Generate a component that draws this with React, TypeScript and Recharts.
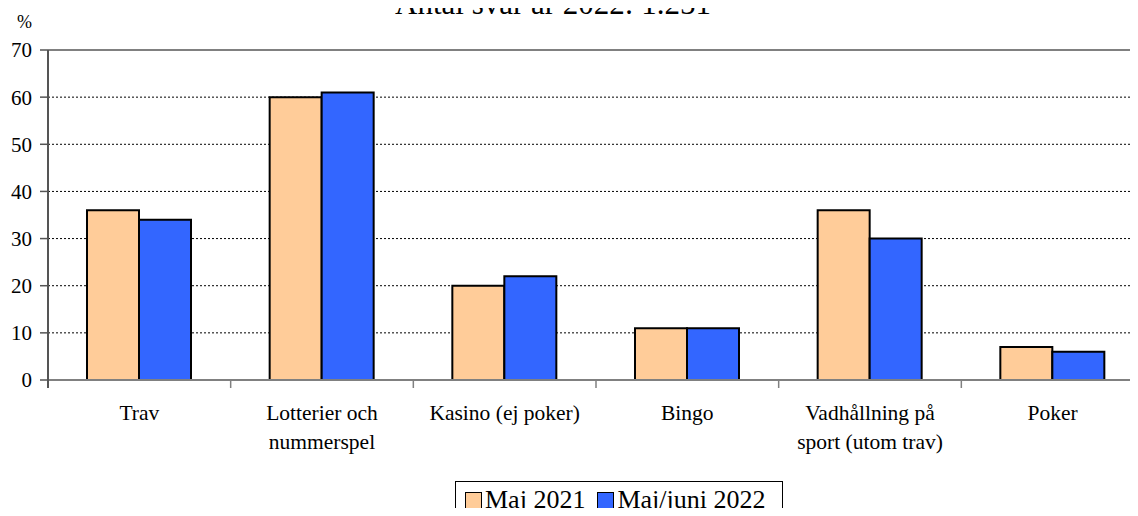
import React from 'react';
import { BarChart, Bar, XAxis, YAxis, CartesianGrid, ReferenceLine } from 'recharts';

const categories = ['Trav', 'Lotterier och\nnummerspel', 'Kasino (ej poker)', 'Bingo', 'Vadhållning på\nsport (utom trav)', 'Poker'];
const may2021 = [36, 60, 20, 11, 36, 7];
const mayJune2022 = [34, 61, 22, 11, 30, 6];
const yTicks = [0, 10, 20, 30, 40, 50, 60, 70];

const data = categories.map((name, i) => ({ name, y2021: may2021[i], y2022: mayJune2022[i] }));

const FONT = "Liberation Serif, DejaVu Serif, serif";
const CHART_W = 1150;
const PLOT_W = 1096;
const band = PLOT_W / categories.length;

const CategoryTick = (props: any) => {
  const { x, y, payload, index } = props;
  const lines = String(payload.value).split('\n');
  return (
    <g>
      {index === 0 && <line x1={x - band / 2} x2={x - band / 2} y1={y} y2={y + 8} stroke="#555" strokeWidth={2} />}
      <line x1={x + band / 2} x2={x + band / 2} y1={y} y2={y + 8} stroke="#808080" strokeWidth={1.5} />
      <text x={x} y={y + 40} textAnchor="middle" style={{ fontFamily: FONT }} fontSize={21.5} fill="#000">
        {lines.map((l, i) => (
          <tspan key={i} x={x} dy={i === 0 ? 0 : 29}>{l}</tspan>
        ))}
      </text>
    </g>
  );
};

export default function App() {
  return (
    <div style={{ position: 'relative', margin: -8, width: 1138, height: 516, overflow: 'hidden', background: '#fff', fontFamily: FONT }}>
      <div style={{ position: 'absolute', left: 0, width: 1106, top: -11, textAlign: 'center', fontSize: 31, lineHeight: '30px', whiteSpace: 'nowrap' }}>
        Antal svar år 2022: 1.251
      </div>
      <div style={{ position: 'absolute', left: 17, top: 13, fontSize: 18, lineHeight: '18px' }}>%</div>
      <BarChart
        width={CHART_W}
        height={516}
        data={data}
        margin={{ top: 50, right: 6, left: 0, bottom: 56 }}
        barGap={0}
        barSize={52}
        style={{ fontFamily: FONT }}
      >
        <CartesianGrid horizontal vertical={false} horizontalValues={[10, 20, 30, 40, 50, 60]} stroke="#000" strokeDasharray="2 2" strokeWidth={1} />
        <ReferenceLine y={70} stroke="#808080" strokeWidth={2} />
        <XAxis
          dataKey="name"
          interval={0}
          height={80}
          tickSize={0}
          tickMargin={0}
          tickLine={false}
          axisLine={{ stroke: '#808080', strokeWidth: 2 }}
          tick={<CategoryTick />}
        />
        <YAxis
          width={48}
          domain={[0, 70]}
          ticks={yTicks}
          interval={0}
          tickSize={8}
          tickMargin={8}
          axisLine={{ stroke: '#555', strokeWidth: 2 }}
          tickLine={{ stroke: '#555', strokeWidth: 1.5 }}
          tick={{ fill: '#000', fontSize: 21, style: { fontFamily: FONT } }}
        />
        <Bar dataKey="y2021" fill="#FFCC99" stroke="#000" strokeWidth={2} isAnimationActive={false} />
        <Bar dataKey="y2022" fill="#3366FF" stroke="#000" strokeWidth={2} isAnimationActive={false} />
      </BarChart>
      <div style={{ position: 'absolute', left: 455, top: 481, width: 328, height: 44, border: '1px solid #000', boxSizing: 'border-box', display: 'flex', alignItems: 'center', paddingLeft: 9, paddingBottom: 6, fontSize: 26, lineHeight: '26px' }}>
        <span style={{ width: 15, height: 15, background: '#FFCC99', border: '1.5px solid #000', marginRight: 3, flexShrink: 0 }} />
        <span style={{ marginRight: 12, whiteSpace: 'nowrap' }}>Maj 2021</span>
        <span style={{ width: 15, height: 15, background: '#3366FF', border: '1.5px solid #000', marginRight: 3, flexShrink: 0 }} />
        <span style={{ whiteSpace: 'nowrap' }}>Maj/juni 2022</span>
      </div>
    </div>
  );
}
